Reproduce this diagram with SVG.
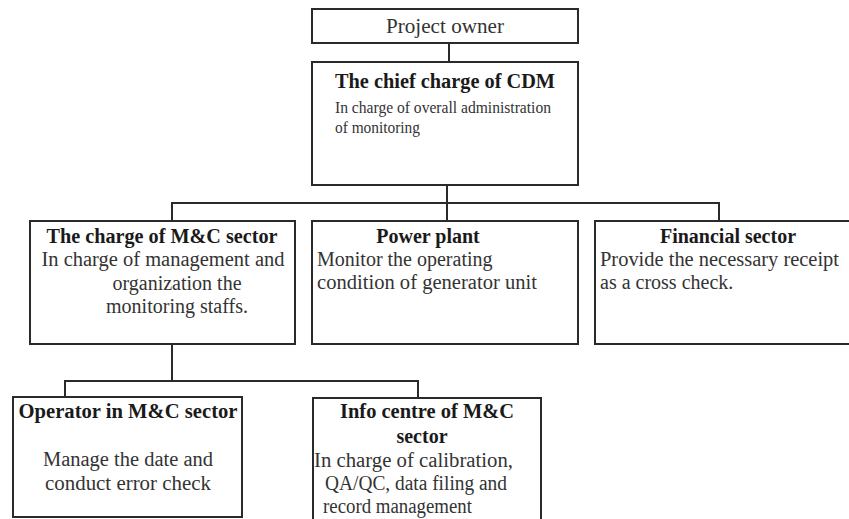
<svg xmlns="http://www.w3.org/2000/svg" width="849" height="519" viewBox="0 0 849 519">
<style>
.box{fill:#fff;stroke:#2a2a2a;stroke-width:2}
.ln{fill:none;stroke:#2a2a2a;stroke-width:2}
text{font-family:"Liberation Serif","Times New Roman",serif;fill:#333}
.t{font-weight:bold;font-size:20px;fill:#1a1a1a}
.b{font-size:20px}
.c{text-anchor:middle}
</style>
<rect width="849" height="519" fill="#fff"/>
<g id="connectors">
<path class="ln" d="M449 43V62"/>
<path class="ln" d="M447 185V203M172 221V203H719V221M447 203V221"/>
<path class="ln" d="M172 344V381M65 397V381H418V398"/>
</g>
<g id="project-owner">
<rect class="box" x="312" y="9" width="266" height="34"/>
<text class="c" x="445" y="33" font-size="21" textLength="118" lengthAdjust="spacingAndGlyphs">Project owner</text>
</g>
<g id="chief-cdm">
<rect class="box" x="312" y="62" width="266" height="123"/>
<text class="t" x="335" y="88" textLength="220" lengthAdjust="spacingAndGlyphs">The chief charge of CDM</text>
<text x="335" y="113" font-size="16" textLength="216" lengthAdjust="spacingAndGlyphs">In charge of overall administration</text>
<text x="335" y="133" font-size="16" textLength="85" lengthAdjust="spacingAndGlyphs">of monitoring</text>
</g>
<g id="mc-sector">
<rect class="box" x="30" y="221" width="265" height="123"/>
<text class="t c" x="162" y="243" textLength="231" lengthAdjust="spacingAndGlyphs">The charge of M&amp;C sector</text>
<text class="b c" x="163" y="266" textLength="243" lengthAdjust="spacingAndGlyphs">In charge of management and</text>
<text class="b c" x="177" y="290">organization the</text>
<text class="b c" x="177" y="313">monitoring staffs.</text>
</g>
<g id="power-plant">
<rect class="box" x="312" y="221" width="266" height="123"/>
<text class="t c" x="428" y="243">Power plant</text>
<text class="b" x="317" y="266">Monitor the operating</text>
<text class="b" x="317" y="289" textLength="220" lengthAdjust="spacingAndGlyphs">condition of generator unit</text>
</g>
<g id="financial-sector">
<rect class="box" x="595" y="221" width="260" height="123"/>
<text class="t c" x="728" y="243">Financial sector</text>
<text class="b" x="600" y="266" textLength="239" lengthAdjust="spacingAndGlyphs">Provide the necessary receipt</text>
<text class="b" x="600" y="289">as a cross check.</text>
</g>
<g id="operator">
<rect class="box" x="13" y="397" width="229" height="120"/>
<text class="t c" x="128" y="418" textLength="219" lengthAdjust="spacingAndGlyphs">Operator in M&amp;C sector</text>
<text class="b c" x="128" y="466" textLength="170" lengthAdjust="spacingAndGlyphs">Manage the date and</text>
<text class="b c" x="128" y="490" textLength="166" lengthAdjust="spacingAndGlyphs">conduct error check</text>
</g>
<g id="info-centre">
<rect class="box" x="313" y="398" width="228" height="130"/>
<text class="t c" x="427" y="418" textLength="174" lengthAdjust="spacingAndGlyphs">Info centre of M&amp;C</text>
<text class="t c" x="422" y="443">sector</text>
<text class="b" x="314" y="467" textLength="199" lengthAdjust="spacingAndGlyphs">In charge of calibration,</text>
<text class="b" x="325" y="490" textLength="182" lengthAdjust="spacingAndGlyphs">QA/QC, data filing and</text>
<text class="b" x="323" y="513" textLength="149" lengthAdjust="spacingAndGlyphs">record management</text>
</g>
</svg>
